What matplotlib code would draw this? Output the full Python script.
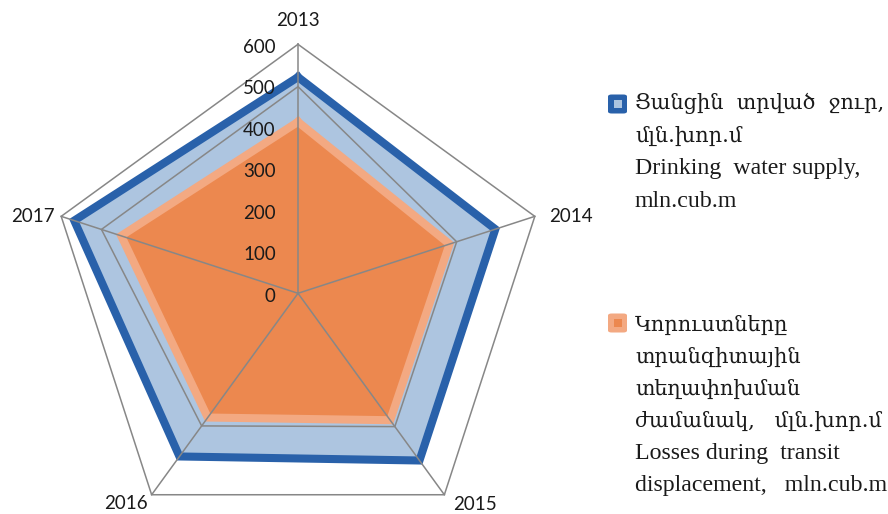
import numpy as np
import matplotlib
matplotlib.use("Agg")
import matplotlib.pyplot as plt
from matplotlib.patches import FancyBboxPatch, Rectangle

categories = ["2013", "2014", "2015", "2016", "2017"]
water_supply = [521, 500, 498, 486, 567]
losses = [413, 384, 378, 370, 448]
unlabeled = [498, 402, 397, 395, 498]   # grey line, no legend entry
r_ticks = [0, 100, 200, 300, 400, 500, 600]

legend_water = ["Ցանցին  տրված  ջուր,", "մլն.խոր.մ", "Drinking  water supply,", "mln.cub.m"]
legend_losses = ["Կորուստները", "տրանզիտային", "տեղափոխման", "ժամանակ,   մլն.խոր.մ",
                 "Losses during  transit", "displacement,   mln.cub.m"]

blue_dark = "#2961AA"
blue_light = "#ADC5E0"
orange = "#EC884F"
orange_light = "#F3A982"
grey = "#878787"

W, H = 888, 514
fig = plt.figure(figsize=(W / 100, H / 100), dpi=100)

cx, cy, R = 298, 293.3, 249
ax = fig.add_axes([(cx - R) / W, (H - cy - R) / H, 2 * R / W, 2 * R / H], projection="polar")
ax.set_theta_offset(np.pi / 2)
ax.set_theta_direction(-1)
ax.set_ylim(0, 600)
ax.grid(False)
ax.set_xticks([])
ax.set_yticks([])
ax.spines["polar"].set_visible(False)
ax.patch.set_visible(False)

angles = np.linspace(0, 2 * np.pi, len(categories), endpoint=False)
closed = np.append(angles, angles[0])


def close(vals):
    return np.append(vals, vals[0])


# outer gridline at 600
ax.plot(closed, [600] * len(closed), color=grey, lw=1.1, zorder=6, clip_on=False)

ax.fill(closed, close(water_supply), color=blue_light, zorder=1, lw=0)
ax.plot(closed, close(water_supply), color=blue_dark, lw=5.8, zorder=2,
        solid_joinstyle="miter", clip_on=False)
ax.plot(closed, close(unlabeled), color=grey, lw=1.1, zorder=3, solid_joinstyle="miter")
ax.fill(closed, close(losses), color=orange, zorder=4, lw=0)
ax.plot(closed, close(losses), color=orange_light, lw=5.8, zorder=5,
        solid_joinstyle="miter")

# spokes
for a in angles:
    ax.plot([a, a], [0, 600], color=grey, lw=1.1, zorder=7, clip_on=False)

tick_font = dict(family="Lato", fontsize=13.5, color="#1a1a1a")
for r in r_ticks:
    ax.annotate(str(r), xy=(0, r), xytext=(-16, -2), textcoords="offset points",
                ha="right", va="center", zorder=10, **tick_font)

label_offsets = [(0, 17, "center"), (10, 0, "left"), (6, -7, "left"),
                 (-3, -6, "right"), (-5, 0, "right")]
for a, lab, (dx, dy, ha) in zip(angles, categories, label_offsets):
    ax.annotate(lab, xy=(a, 600), xytext=(dx, dy), textcoords="offset points",
                ha=ha, va="center", annotation_clip=False, zorder=10, **tick_font)

# legend
arm_font = dict(family=["DejaVu Serif"], fontsize=15, color="#1a1a1a")
lat_font = dict(family=["Liberation Serif", "DejaVu Serif"], fontsize=17.2, color="#1a1a1a")


def is_latin(s):
    return all(ord(c) < 0x500 for c in s)


x_text = 635 / W
y0 = 103
for i, line in enumerate(legend_water):
    f = lat_font if is_latin(line) else arm_font
    fig.text(x_text, 1 - (y0 + 33 * i) / H, line, va="center", ha="left", **f)
y1 = 325
for i, line in enumerate(legend_losses):
    f = lat_font if is_latin(line) else arm_font
    fig.text(x_text, 1 - (y1 + 32 * i) / H, line, va="center", ha="left", **f)


def marker(yc, edge, face):
    s = 19
    fig.patches.append(FancyBboxPatch(((608) / W, 1 - (yc + s / 2) / H), s / W, s / H,
                                      boxstyle="round,pad=0,rounding_size=0.004",
                                      transform=fig.transFigure, facecolor=edge,
                                      edgecolor="none"))
    i = 8
    fig.patches.append(Rectangle(((608 + (s - i) / 2) / W, 1 - (yc + i / 2) / H), i / W, i / H,
                                 transform=fig.transFigure, facecolor=face, edgecolor="none"))


marker(104, blue_dark, blue_light)
marker(323, orange_light, orange)

fig.savefig("out.png", dpi=100)
